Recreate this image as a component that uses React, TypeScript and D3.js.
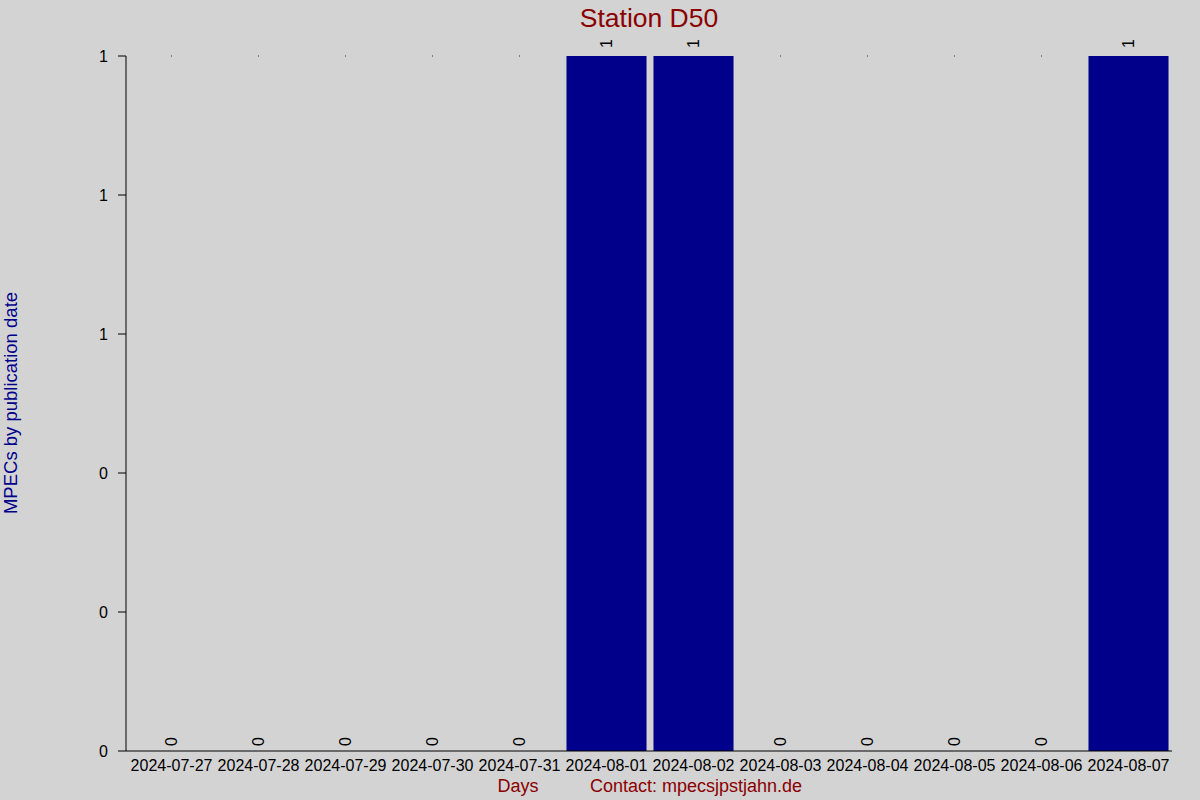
import * as d3 from 'd3';
import { useEffect, useRef } from 'react';

// ─ Data ─────────────────────────────────────────────────────────────────────
const days: string[] = [
  '2024-07-27', '2024-07-28', '2024-07-29', '2024-07-30', '2024-07-31', '2024-08-01',
  '2024-08-02', '2024-08-03', '2024-08-04', '2024-08-05', '2024-08-06', '2024-08-07',
];
const mpecCounts: number[] = [0, 0, 0, 0, 0, 1, 1, 0, 0, 0, 0, 1];
const yTicks: number[] = [0, 0.2, 0.4, 0.6, 0.8, 1];

const W = 1200;
const H = 800;
const FONT = '"Liberation Sans", Arial, sans-serif';

export default function App() {
  const svgRef = useRef<SVGSVGElement>(null);

  useEffect(() => {
    document.body.style.margin = '0';
    if (!svgRef.current) { return; }
    const svg = d3.select(svgRef.current);
    svg.selectAll('*').remove();

    const left = 126;
    const right = 1172;
    const top = 56;
    const bottom = 751;

    const x = d3.scaleBand<string>()
      .domain(days)
      .range([128, right])
      .paddingInner(0.08)
      .paddingOuter(0.04);

    const y = d3.scaleLinear().domain([0, 1]).range([bottom, top]);

    svg.append('rect').attr('width', W).attr('height', H).attr('fill', '#d3d3d3');

    // bars
    const data = days.map((d, i) => ({ day: d, value: mpecCounts[i] }));
    svg.append('g').selectAll('rect')
      .data(data.filter(d => d.value > 0))
      .enter()
      .append('rect')
      .attr('x', d => x(d.day) || 0)
      .attr('y', d => y(d.value))
      .attr('width', x.bandwidth())
      .attr('height', d => bottom - y(d.value))
      .attr('fill', '#00008b');

    // tiny marks at top for empty days
    svg.append('g').selectAll('rect')
      .data(data.filter(d => d.value === 0))
      .enter()
      .append('rect')
      .attr('x', d => (x(d.day) || 0) + x.bandwidth() / 2 - 0.5)
      .attr('y', y(1) - 0.5)
      .attr('width', 1)
      .attr('height', 1)
      .attr('fill', '#333');

    // value labels (rotated)
    svg.append('g').selectAll('text')
      .data(data)
      .enter()
      .append('text')
      .attr('transform', d => `translate(${(x(d.day) || 0) + x.bandwidth() / 2 + 5},${y(d.value) - (d.value > 0 ? 8 : 5)}) rotate(-90)`)
      .attr('text-anchor', 'start')
      .style('font-family', FONT)
      .style('font-size', '16px')
      .style('fill', '#000')
      .text(d => String(d.value));

    // y axis
    const yAxis = svg.append('g');
    yAxis.append('line')
      .attr('x1', left).attr('x2', left)
      .attr('y1', top).attr('y2', bottom)
      .attr('stroke', '#000');
    yAxis.selectAll('.tick')
      .data(yTicks)
      .enter()
      .append('g')
      .each(function (t) {
        const g = d3.select(this);
        g.append('line')
          .attr('x1', left - 8).attr('x2', left)
          .attr('y1', y(t)).attr('y2', y(t))
          .attr('stroke', '#000');
        g.append('text')
          .attr('x', left - 18)
          .attr('y', y(t))
          .attr('dy', '0.35em')
          .attr('text-anchor', 'end')
          .style('font-family', FONT)
          .style('font-size', '16px')
          .style('fill', '#000')
          .text(d3.format('.0f')(t));
      });

    // x axis
    svg.append('line')
      .attr('x1', left).attr('x2', right)
      .attr('y1', bottom).attr('y2', bottom)
      .attr('stroke', '#000');
    svg.append('g').selectAll('text')
      .data(days)
      .enter()
      .append('text')
      .attr('x', d => (x(d) || 0) + x.bandwidth() / 2)
      .attr('y', 771)
      .attr('text-anchor', 'middle')
      .style('font-family', FONT)
      .style('font-size', '16px')
      .style('fill', '#000')
      .text(d => d);

    // titles
    svg.append('text')
      .attr('x', 649).attr('y', 27)
      .attr('text-anchor', 'middle')
      .style('font-family', FONT)
      .style('font-size', '26.5px')
      .style('fill', '#8b0000')
      .text('Station D50');

    svg.append('text')
      .attr('transform', `translate(17,403) rotate(-90)`)
      .attr('text-anchor', 'middle')
      .style('font-family', FONT)
      .style('font-size', '18.5px')
      .style('fill', '#00008b')
      .text('MPECs by publication date');

    svg.append('text')
      .attr('x', 518).attr('y', 792)
      .attr('text-anchor', 'middle')
      .style('font-family', FONT)
      .style('font-size', '18px')
      .style('fill', '#8b0000')
      .text('Days');

    svg.append('text')
      .attr('x', 590).attr('y', 792)
      .attr('text-anchor', 'start')
      .style('font-family', FONT)
      .style('font-size', '18px')
      .style('fill', '#8b0000')
      .text('Contact: mpecsjpstjahn.de');
  }, []);

  return <svg ref={svgRef} width={W} height={H} style={{ display: 'block' }} />;
}
